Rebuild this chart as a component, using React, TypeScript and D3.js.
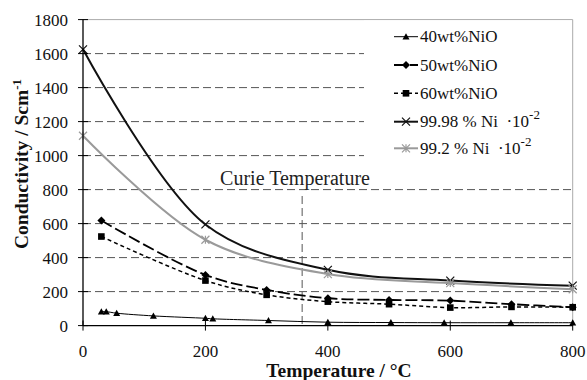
import React from "react";
import * as d3 from "d3";

const xTicks = [0, 200, 400, 600, 800];
const yTicks = [0, 200, 400, 600, 800, 1000, 1200, 1400, 1600, 1800];

const t40 = [30, 38, 55, 115, 200, 212, 303, 400, 503, 590, 699, 800];
const v40 = [82, 82, 73, 57, 43, 40, 30, 20, 18, 17, 17, 17];

const t50 = [30, 200, 300, 400, 500, 600, 700, 800];
const v50 = [618, 298, 210, 161, 151, 147, 126, 108];

const t60 = [30, 200, 300, 400, 500, 600, 700, 800];
const v60 = [524, 265, 181, 141, 126, 106, 110, 108];

const tNi98 = [0, 200, 400, 600, 800];
const vNi98 = [1625, 595, 328, 265, 235];

const tNi92 = [0, 200, 400, 600, 800];
const vNi92 = [1117, 505, 303, 250, 214];

const curieT = 358;

const FONT = "Liberation Serif, Times New Roman, DejaVu Serif, serif";

type Series = {
  name: string;
  sup?: string;
  t: number[];
  v: number[];
  color: string;
  width: number;
  dash?: string;
  marker: "tri" | "diamond" | "square" | "x" | "star";
};

const series: Series[] = [
  { name: "40wt%NiO", t: t40, v: v40, color: "#000", width: 1, marker: "tri" },
  { name: "50wt%NiO", t: t50, v: v50, color: "#000", width: 1.8, dash: "12,4", marker: "diamond" },
  { name: "60wt%NiO", t: t60, v: v60, color: "#000", width: 1.5, dash: "4,3", marker: "square" },
  { name: "99.98 % Ni  \u00b710", sup: "-2", t: tNi98, v: vNi98, color: "#111", width: 2, marker: "x" },
  { name: "99.2 % Ni  \u00b710", sup: "-2", t: tNi92, v: vNi92, color: "#9a9a9a", width: 2, marker: "star" },
];

function Marker({ type, x, y, color }: { type: string; x: number; y: number; color: string }) {
  if (type === "tri") {
    const s = 3.5;
    return <path d={`M${x},${y - s}L${x + s},${y + s * 0.8}L${x - s},${y + s * 0.8}Z`} fill={color} />;
  }
  if (type === "diamond") {
    const s = 4;
    return <path d={`M${x},${y - s}L${x + s},${y}L${x},${y + s}L${x - s},${y}Z`} fill={color} />;
  }
  if (type === "square") {
    const s = 3.3;
    return <rect x={x - s} y={y - s} width={2 * s} height={2 * s} fill={color} />;
  }
  if (type === "x") {
    const s = 4;
    return (
      <path d={`M${x - s},${y - s}L${x + s},${y + s}M${x - s},${y + s}L${x + s},${y - s}`} stroke={color} strokeWidth={1.2} />
    );
  }
  const s = 4;
  return (
    <path
      d={`M${x - s},${y - s}L${x + s},${y + s}M${x - s},${y + s}L${x + s},${y - s}M${x},${y - s}L${x},${y + s}`}
      stroke={color}
      strokeWidth={1.2}
    />
  );
}

const txt = { fontFamily: FONT };

export default function App() {
  const W = 587;
  const H = 380;
  const x = d3.scaleLinear().domain([0, 800]).range([83, 572.7]);
  const y = d3.scaleLinear().domain([0, 1800]).range([325.6, 19.6]);

  const line = d3
    .line<[number, number]>()
    .x((d) => x(d[0]))
    .y((d) => y(d[1]))
    .curve(d3.curveCatmullRom.alpha(0.5));

  const legX0 = 394;
  const legX1 = 418;
  const legY = [36.7, 65, 93.3, 121.7, 148.3];

  return (
    <svg width={W} height={H} style={{ position: "absolute", left: 0, top: 0, background: "#fff", fontFamily: FONT }}>
      <rect x={0} y={0} width={W} height={H} fill="#fff" />
      {/* grid */}
      {yTicks.slice(1, -1).map((v) => (
        <line key={v} x1={x(0)} x2={x(800)} y1={y(v)} y2={y(v)} stroke="#555" strokeWidth={1} strokeDasharray="8,4" />
      ))}
      {/* plot border top/right */}
      <line x1={x(0)} x2={x(800)} y1={y(1800)} y2={y(1800)} stroke="#aaa" strokeWidth={1} />
      <line x1={x(800)} x2={x(800)} y1={y(1800)} y2={y(0)} stroke="#aaa" strokeWidth={1} />

      {/* Curie line */}
      <line x1={x(curieT)} x2={x(curieT)} y1={196} y2={y(0)} stroke="#555" strokeWidth={1} strokeDasharray="8,4" />

      {/* series */}
      {series.map((s) => (
        <g key={s.name}>
          <path
            d={line(s.t.map((t, i) => [t, s.v[i]] as [number, number])) || ""}
            fill="none"
            stroke={s.color}
            strokeWidth={s.width}
            strokeDasharray={s.dash}
          />
          {s.t.map((t, i) => (
            <Marker key={i} type={s.marker} x={x(t)} y={y(s.v[i])} color={s.color} />
          ))}
        </g>
      ))}

      {/* axes */}
      <line x1={x(0)} x2={x(0)} y1={y(1800)} y2={y(0)} stroke="#000" strokeWidth={1.3} />
      <line x1={x(0)} x2={x(800)} y1={y(0)} y2={y(0)} stroke="#000" strokeWidth={1.3} />
      {yTicks.map((v) => (
        <g key={v}>
          <line x1={x(0) - 5} x2={x(0) + 5} y1={y(v)} y2={y(v)} stroke="#000" strokeWidth={1} />
          <text x={68} y={y(v)} dy="0.35em" fontSize={17} textAnchor="end" fill="#111" style={txt}>
            {v}
          </text>
        </g>
      ))}
      {xTicks.map((v) => (
        <g key={v}>
          <line x1={x(v)} x2={x(v)} y1={y(0) - 5} y2={y(0) + 5} stroke="#000" strokeWidth={1} />
          <text x={x(v)} y={357} fontSize={17} textAnchor="middle" fill="#111" style={txt}>
            {v}
          </text>
        </g>
      ))}

      {/* axis titles */}
      <text x={339} y={377} fontSize={19.5} fontWeight="bold" textAnchor="middle" fill="#111" style={txt}>
        Temperature / °C
      </text>
      <text
        transform={`translate(28,164) rotate(-90)`}
        fontSize={19.5}
        fontWeight="bold"
        textAnchor="middle"
        fill="#111"
        style={txt}
      >
        Conductivity / Scm
        <tspan dy={-7} fontSize={13}>
          -1
        </tspan>
      </text>

      {/* legend */}
      <rect x={364} y={20.5} width={208} height={158} fill="#fff" />
      {series.map((s, i) => (
        <g key={s.name}>
          <line
            x1={legX0}
            x2={legX1}
            y1={legY[i]}
            y2={legY[i]}
            stroke={s.color}
            strokeWidth={s.width}
            strokeDasharray={s.dash}
          />
          <Marker type={s.marker} x={(legX0 + legX1) / 2} y={legY[i]} color={s.color} />
          <text x={420} y={legY[i] + 5.5} fontSize={17} fill="#111" style={{ ...txt, whiteSpace: "pre" }}>
            {s.name}
            {s.sup ? (
              <tspan dy={-8} fontSize={13}>
                {s.sup}
              </tspan>
            ) : null}
          </text>
        </g>
      ))}

      {/* Curie label on top */}
      <text x={295} y={185} fontSize={20} textAnchor="middle" fill="#222" style={txt}>
        Curie Temperature
      </text>
    </svg>
  );
}
